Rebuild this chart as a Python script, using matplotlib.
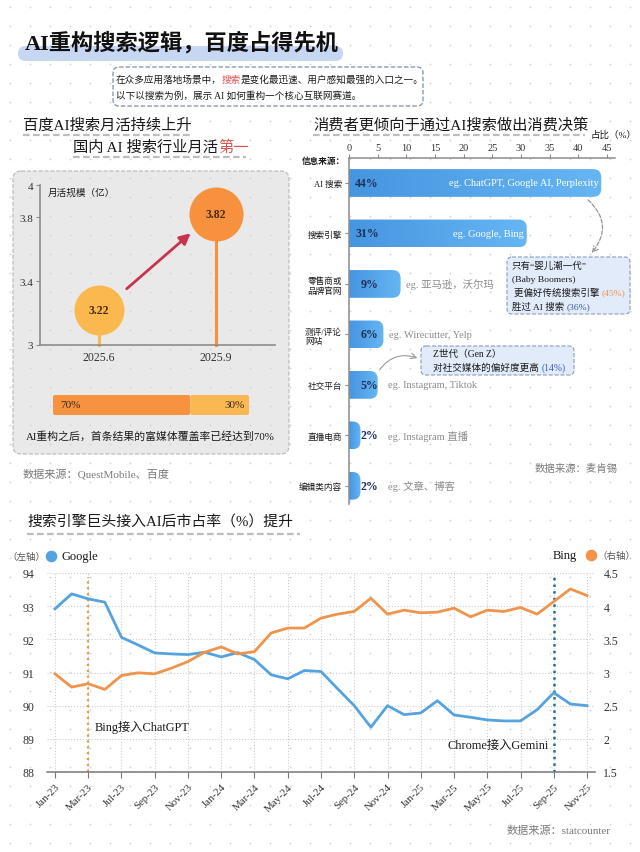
import numpy as np
import matplotlib
matplotlib.use("Agg")
import matplotlib.pyplot as plt
from matplotlib.patches import FancyBboxPatch
from matplotlib.colors import LinearSegmentedColormap
from matplotlib.ticker import FuncFormatter

plt.rcParams['font.family'] = ['Liberation Serif', 'Noto Sans CJK SC', 'DejaVu Sans']

# ---- data ----
mau_labels = ['2025.6', '2025.9']
mau_values = [3.22, 3.82]
rich_media = [70, 30]

src_labels = ['AI 搜索', '搜索引擎', '零售商或\n品牌官网', '测评/评论\n网站', '社交平台', '直播电商', '编辑类内容']
src_values = [44, 31, 9, 6, 5, 2, 2]
src_examples = ['eg. ChatGPT, Google AI, Perplexity', 'eg. Google, Bing', 'eg. 亚马逊，沃尔玛',
                'eg. Wirecutter, Yelp', 'eg. Instagram, Tiktok', 'eg. Instagram 直播', 'eg. 文章、博客']

month_ticks = ['Jan-23', 'Mar-23', 'Jul-23', 'Sep-23', 'Nov-23', 'Jan-24', 'Mar-24', 'May-24', 'Jul-24',
               'Sep-24', 'Nov-24', 'Jan-25', 'Mar-25', 'May-25', 'Jul-25', 'Sep-25', 'Nov-25']
google = [92.92, 93.37, 93.22, 93.12, 92.06, 91.83, 91.59, 91.56, 91.54, 91.61, 91.47, 91.6, 91.39,
          90.93, 90.81, 91.06, 91.03, 90.51, 90.0, 89.35, 90.0, 89.73, 89.78, 90.15, 89.72, 89.65,
          89.57, 89.54, 89.54, 89.88, 90.39, 90.05, 90.0]
bing = [2.98, 2.78, 2.83, 2.745, 2.955, 2.995, 2.98, 3.065, 3.165, 3.305, 3.385, 3.28, 3.315, 3.595,
        3.67, 3.67, 3.82, 3.88, 3.92, 4.12, 3.88, 3.94, 3.90, 3.91, 3.97, 3.84, 3.94, 3.92, 3.98,
        3.88, 4.07, 4.26, 4.16]
event_idx = [2, 30]

W, H = 640, 853
fig = plt.figure(figsize=(6.4, 8.53), dpi=100)
fig.patch.set_facecolor('white')
renderer = fig.canvas.get_renderer()

DARK = '#1a1a1a'
GRAY = '#7a7a7a'


def px_axes(x0, y0, x1, y1, **kw):
    return fig.add_axes([x0 / W, 1 - y1 / H, (x1 - x0) / W, (y1 - y0) / H], **kw)


def pixel_space(ax):
    ax.set_xlim(0, W)
    ax.set_ylim(H, 0)
    ax.axis('off')
    ax.patch.set_alpha(0)


def rich_text(ax, x, y, parts, **kw):
    for s, c in parts:
        t = ax.text(x, y, s, color=c, ha='left', va='center', **kw)
        x += t.get_window_extent(renderer).width


def underline(ax, x0, x1, y):
    ax.plot([x0, x1], [y, y], ls=(0, (3, 1.5)), color='#bdbdbd', lw=1.6, zorder=2)


# ---- background layer ----
bg = px_axes(0, 0, W, H, zorder=0)
pixel_space(bg)
bg.add_patch(FancyBboxPatch((13, 172), 276, 283, boxstyle='round,pad=0,rounding_size=8',
                            fc='#e9e9e9', ec='#b8b8b8', ls='--', lw=0.8, zorder=0.5))
gx, gy = np.meshgrid(np.arange(10, W, 20), np.arange(8, H, 19))
bg.scatter(gx.ravel(), gy.ravel(), s=1.6, color='#d2d2d2', lw=0, zorder=1)

# title
bg.add_patch(FancyBboxPatch((18, 47), 325, 15, boxstyle='round,pad=0,rounding_size=7.5',
                            fc='#c7d6f2', ec='none', zorder=2))
bg.text(25, 43, 'AI重构搜索逻辑，百度占得先机', fontsize=16, weight='bold', color='#111111',
        va='center', ha='left', zorder=3)

# intro box
bg.add_patch(FancyBboxPatch((113, 68), 310, 39, boxstyle='round,pad=0,rounding_size=6',
                            fc='white', ec='#7f8fb0', ls='--', lw=0.9, zorder=2))
rich_text(bg, 116, 80, [('在众多应用落地场景中，', DARK), ('搜索', '#d9534f'),
                        ('是变化最迅速、用户感知最强的入口之一。', DARK)], fontsize=6.9, zorder=3)
bg.text(116, 96, '以下以搜索为例，展示 AI 如何重构一个核心互联网赛道。', fontsize=6.9, color=DARK,
        va='center', zorder=3)

# ---- left panel ----
bg.text(23, 126, '百度AI搜索月活持续上升', fontsize=11, color=DARK, va='center', weight='medium', zorder=3)
underline(bg, 23, 190, 136)
rich_text(bg, 73, 148, [('国内 AI 搜索行业月活', DARK), ('第一', '#d9534f')], fontsize=11,
          weight='medium', zorder=3)
underline(bg, 73, 246, 158)

axb = px_axes(40, 186, 275, 346, zorder=1)
axb.patch.set_alpha(0)
axb.set_xlim(-0.5, 1.5)
axb.set_ylim(3, 4)
for s in ['top', 'right']:
    axb.spines[s].set_visible(False)
axb.spines['left'].set_color('#8c8c8c')
axb.spines['bottom'].set_color('#8c8c8c')
axb.spines['left'].set_linewidth(1.2)
axb.spines['bottom'].set_linewidth(1.2)
axb.set_yticks([3, 3.4, 3.8, 4])
axb.set_yticklabels(['3', '3.4', '3.8', '4'])
axb.set_xticks([0, 1])
axb.set_xticklabels(mau_labels)
axb.tick_params(axis='y', length=3, color='#8c8c8c', labelsize=8, labelcolor='#333333', pad=2)
axb.tick_params(axis='x', length=0, labelsize=8.5, labelcolor='#333333', pad=4)
bub_colors = ['#fbb84e', '#f7913d']
bub_sizes = [1296, 1512]
for i, v in enumerate(mau_values):
    axb.plot([i, i], [3, v], color=bub_colors[i], lw=2.2, zorder=2, clip_on=False)
    axb.scatter([i], [v], s=bub_sizes[i], color=bub_colors[i], lw=0, zorder=3, clip_on=False)
    axb.text(i, v, f'{v:.2f}', ha='center', va='center', fontsize=8.5, weight='bold',
             color='#4a2c12', zorder=4)
axb.annotate('', xy=(0.80, 3.71), xytext=(0.22, 3.34),
             arrowprops=dict(arrowstyle='-|>', color='#c8334f', lw=2, mutation_scale=16))
bg.text(48, 193, '月活规模（亿）', fontsize=6.9, color=DARK, va='center', zorder=3)

# rich media bar
bar_x, bar_w = 53, 196
rm_colors = ['#f7923f', '#fbb852']
x = bar_x
for v, c in zip(rich_media, rm_colors):
    w = bar_w * v / 100
    bg.add_patch(FancyBboxPatch((x, 396), w, 20, boxstyle='round,pad=0,rounding_size=2',
                                fc=c, ec='none', zorder=2))
    x += w
bg.text(bar_x + 7, 406, f'{rich_media[0]}%', fontsize=8, color='#3a2a1a', va='center', zorder=3)
bg.text(bar_x + bar_w - 4, 406, f'{rich_media[1]}%', fontsize=8, color='#3a2a1a', va='center',
        ha='right', zorder=3)
bg.text(26, 436, 'AI重构之后，首条结果的富媒体覆盖率已经达到70%', fontsize=7.8, color=DARK,
        va='center', zorder=3)
bg.text(23, 474, '数据来源：QuestMobile、百度', fontsize=8, color=GRAY, va='center', zorder=3)

# ---- right panel ----
bg.text(313, 125, '消费者更倾向于通过AI搜索做出消费决策', fontsize=11, color=DARK, va='center',
        weight='medium', zorder=3)
underline(bg, 313, 585, 136)
bg.text(591, 135, '占比（%）', fontsize=6.8, color=DARK, va='center', zorder=3)
bg.text(302, 162, '信息来源：', fontsize=6.2, color=DARK, va='center', weight='bold', zorder=3)

axr = px_axes(349, 159, 615, 505, zorder=1)
axr.patch.set_alpha(0)
for s in ['bottom', 'right']:
    axr.spines[s].set_visible(False)
for s in ['top', 'left']:
    axr.spines[s].set_color('#8c8c8c')
    axr.spines[s].set_linewidth(1.1)
axr.xaxis.tick_top()
axr.set_xticks(range(0, 50, 5))
axr.tick_params(axis='x', length=3, color='#8c8c8c', labelsize=7.5, labelcolor='#333333', pad=1)
axr.set_yticks(range(len(src_labels)))
axr.set_yticklabels(src_labels, multialignment='left')
axr.tick_params(axis='y', length=3, color='#8c8c8c', labelsize=6.2, labelcolor=DARK, pad=2)
for lab in axr.get_yticklabels():
    lab.set_fontweight('medium')

cmap = LinearSegmentedColormap.from_list('bars', ['#4695e0', '#66b6f4'])
grad = np.linspace(0, 1, 256).reshape(1, -1)
bh = 0.55
for i, (v, ex) in enumerate(zip(src_values, src_examples)):
    patch = FancyBboxPatch((-3, i - bh / 2), v + 3, bh, boxstyle='round,pad=0,rounding_size=1.4',
                           mutation_aspect=0.113, fc='none', ec='none')
    axr.add_patch(patch)
    im = axr.imshow(grad, extent=[0, v, i + bh / 2, i - bh / 2], cmap=cmap, aspect='auto', zorder=2)
    im.set_clip_path(patch)
    lx = 1.1 if v > 20 else 2.0
    axr.text(lx, i, f'{v}%', ha='left', va='center', fontsize=8.6, weight='bold', color='#1d2f55',
             zorder=3)
    if v > 20:
        axr.text(v - 0.5, i, ex, ha='right', va='center', fontsize=7.5, color='white', zorder=3)
    else:
        axr.text(max(v + 1, 6.8), i, ex, ha='left', va='center', fontsize=7.5, color='#8c8c8c', zorder=3)
axr.set_xlim(0, 46.4)
axr.set_ylim(6.36, -0.495)

bg.text(535, 469, '数据来源：麦肯锡', fontsize=7.5, color=GRAY, va='center', zorder=3)

# ---- line chart ----
bg.text(27, 523, '搜索引擎巨头接入AI后市占率（%）提升', fontsize=10.7, color=DARK, va='center',
        weight='medium', zorder=3)
underline(bg, 27, 300, 535)

axl = px_axes(47, 574, 595, 773, zorder=1)
axl.patch.set_alpha(0)
idx = np.arange(len(google))
axl.set_xlim(-0.48, len(google) - 0.52)
axl.set_ylim(88, 94)
for s in ['top', 'left', 'right']:
    axl.spines[s].set_visible(False)
axl.spines['bottom'].set_color('#777777')
axl.spines['bottom'].set_linewidth(1.1)
axl.set_xticks(idx[::2])
axl.set_xticklabels(month_ticks, rotation=45, ha='right', rotation_mode='anchor')
axl.tick_params(axis='x', length=4, color='#777777', labelsize=7.8, labelcolor='#333333', pad=3)
axl.set_yticks(range(88, 95))
axl.tick_params(axis='y', length=0, labelsize=8.5, labelcolor='#333333', pad=9)
axl.grid(True, ls=':', color='#cccccc', lw=0.8)
axl.set_axisbelow(True)
axl.plot(idx, google, color='#55a3de', lw=2, zorder=3)
axl.axvline(event_idx[0], ymax=0.98, color='#e59a45', ls=':', lw=1.6, zorder=2)
axl.axvline(event_idx[1], ymax=0.99, color='#1f6d9c', ls=':', lw=1.8, zorder=2)
axl.text(2.4, 89.36, 'Bing接入ChatGPT', fontsize=8.8, color=DARK, va='center', ha='left')
axl.text(29.7, 88.82, 'Chrome接入Gemini', fontsize=8.8, color=DARK, va='center', ha='right')

ax2 = axl.twinx()
ax2.set_ylim(1.5, 4.5)
for s in ax2.spines.values():
    s.set_visible(False)
ax2.set_yticks(np.arange(1.5, 4.51, 0.5))
ax2.yaxis.set_major_formatter(FuncFormatter(lambda v, p: f'{v:g}'))
ax2.tick_params(axis='y', length=0, labelsize=8.5, labelcolor='#333333', pad=6)
ax2.plot(idx, bing, color='#f0944c', lw=2, zorder=3)

# legend
bg.text(7, 557, '（左轴）', fontsize=6.8, color='#555555', va='center', zorder=3)
bg.scatter([51], [557], s=70, color='#55a3de', lw=0, zorder=3)
bg.text(61, 557, 'Google', fontsize=9, color=DARK, va='center', zorder=3)
bg.text(553, 556, 'Bing', fontsize=9, color=DARK, va='center', zorder=3)
bg.scatter([591], [556], s=70, color='#f0944c', lw=0, zorder=3)
bg.text(597, 556, '（右轴）', fontsize=6.8, color='#555555', va='center', zorder=3)
bg.text(611, 831, '数据来源：statcounter', fontsize=8, color=GRAY, va='center', ha='right', zorder=3)

# ---- overlay callouts ----
ov = px_axes(0, 0, W, H, zorder=5)
pixel_space(ov)
ov.add_patch(FancyBboxPatch((507, 258), 123, 57, boxstyle='round,pad=0,rounding_size=5',
                            fc='#e2ebfa', ec='#8a9cc0', ls='--', lw=0.8))
ov.text(512, 266, '只有“婴儿潮一代”', fontsize=6.8, color=DARK, va='center')
ov.text(512, 280, '(Baby Boomers)', fontsize=6.8, color=DARK, va='center')
rich_text(ov, 514, 293, [('更偏好传统搜索引擎 ', DARK), ('(45%)', '#f0934a')], fontsize=6.8)
rich_text(ov, 512, 307, [('胜过 AI 搜索 ', DARK), ('(36%)', '#3b5cb0')], fontsize=6.8)
ov.annotate('', xy=(590, 256), xytext=(586, 199),
            arrowprops=dict(arrowstyle='->', ls='--', color='#8a8a8a', lw=0.8,
                            connectionstyle='arc3,rad=-0.5'))

ov.add_patch(FancyBboxPatch((421, 347), 153, 29, boxstyle='round,pad=0,rounding_size=5',
                            fc='#e2ebfa', ec='#8a9cc0', ls='--', lw=0.8))
ov.text(433, 354, 'Z世代（Gen Z）', fontsize=6.9, color=DARK, va='center')
rich_text(ov, 433, 368, [('对社交媒体的偏好度更高 ', DARK), ('(14%)', '#3b5cb0')], fontsize=6.9)
ov.annotate('', xy=(420, 360), xytext=(378, 373),
            arrowprops=dict(arrowstyle='->', color='#9a9a9a', lw=0.8,
                            connectionstyle='arc3,rad=-0.4'))

fig.savefig('out.png', dpi=100, facecolor='white')
